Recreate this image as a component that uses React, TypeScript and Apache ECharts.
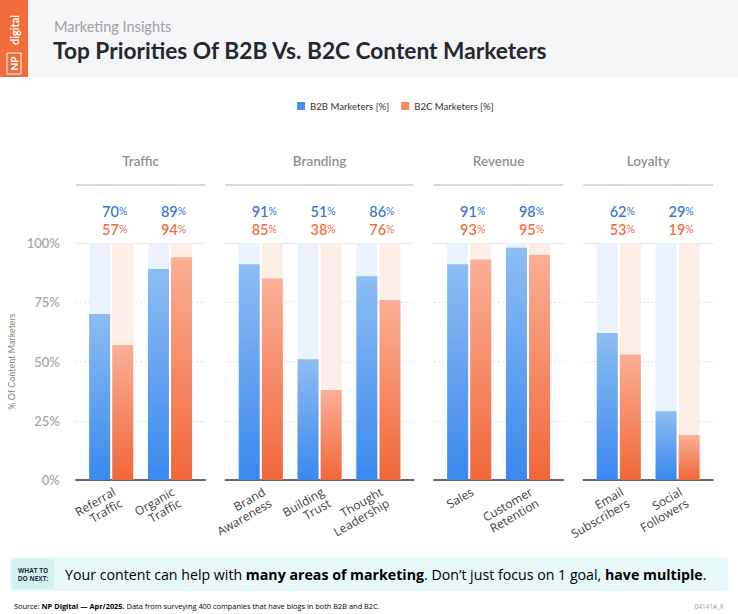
import React, { useEffect, useRef } from 'react';
import * as echarts from 'echarts';

const groups = ['Traffic', 'Branding', 'Revenue', 'Loyalty'];
const categories = [
  'Referral\nTraffic',
  'Organic\nTraffic',
  'Brand\nAwareness',
  'Building\nTrust',
  'Thought\nLeadership',
  'Sales',
  'Customer\nRetention',
  'Email\nSubscribers',
  'Social\nFollowers',
];
const categoryGroup = ['Traffic', 'Traffic', 'Branding', 'Branding', 'Branding', 'Revenue', 'Revenue', 'Loyalty', 'Loyalty'];
const b2b = [70, 89, 91, 51, 86, 91, 98, 62, 29];
const b2c = [57, 94, 85, 38, 76, 93, 95, 53, 19];
const seriesNames = ['B2B Marketers [%]', 'B2C Marketers [%]'];
const yMin = 0;
const yMax = 100;
const yStep = 25;

const W = 738;
const H = 614;
const SLOT = 58.8;
const INSET = 6;
const PANEL_GAP = 20;
const X0 = 75.8;
const TOP = 243;
const BOTTOM = 480;

const BLUE_TXT = '#3a6fd4';
const ORANGE_TXT = '#f0693d';

export default function App() {
  const ref = useRef<HTMLDivElement>(null);
  useEffect(() => {
    const chart = echarts.init(ref.current!, null, { renderer: 'svg' });
    const panels: { g: string; idx: number[]; x: number; w: number }[] = [];
    let x = X0;
    groups.forEach((g) => {
      const idx = categories.map((_, i) => i).filter((i) => categoryGroup[i] === g);
      const w = idx.length * SLOT + 2 * INSET;
      panels.push({ g, idx, x, w });
      x += w + PANEL_GAP;
    });
    const n = panels.length;
    const grid: any[] = [];
    const xAxis: any[] = [];
    const yAxis: any[] = [];
    const series: any[] = [];
    const graphic: any[] = [];

    // header
    graphic.push(
      { type: 'rect', shape: { x: 0, y: 0, width: W, height: 77 }, style: { fill: '#f5f6f8' }, z: -10 },
      { type: 'rect', shape: { x: 0, y: 0, width: 28, height: 77 }, style: { fill: '#f26b3b' } },
      {
        type: 'text', x: 14, y: 30, rotation: Math.PI / 2,
        style: { text: 'digital', fill: '#fff', fontSize: 11, fontWeight: 'bold', fontFamily: 'Lato', align: 'center', verticalAlign: 'middle' },
      },
      { type: 'rect', shape: { x: 7, y: 53, width: 14, height: 21 }, style: { fill: 'none', stroke: '#fff', lineWidth: 1 } },
      {
        type: 'text', x: 14, y: 63.5, rotation: Math.PI / 2,
        style: { text: 'NP', fill: '#fff', fontSize: 10, fontWeight: 'bold', fontFamily: 'Lato', align: 'center', verticalAlign: 'middle' },
      },
      {
        type: 'text', x: 54, y: 26,
        style: { text: 'Marketing Insights', fill: '#9ca0a5', fontSize: 14.5, fontFamily: 'Lato', verticalAlign: 'middle' },
      },
      {
        type: 'text', x: 53, y: 50,
        style: { text: 'Top Priorities Of B2B Vs. B2C Content Marketers', fill: '#24292e', fontSize: 22.7, fontWeight: 'bold', fontFamily: 'Lato', verticalAlign: 'middle' },
      }
    );

    panels.forEach((p, k) => {
      // group header
      graphic.push(
        {
          type: 'text', x: p.x + p.w / 2, y: 161,
          style: { text: p.g, fill: '#8d9196', fontSize: 13.5, fontWeight: 600, fontFamily: 'Lato', align: 'center', verticalAlign: 'middle' },
        },
        { type: 'rect', shape: { x: p.x, y: 184, width: p.w, height: 2 }, style: { fill: '#d6d9dc' } }
      );
      // frame grid
      grid.push({ left: p.x, width: p.w, top: TOP, height: BOTTOM - TOP });
      xAxis.push({
        type: 'value', gridIndex: k, position: 'bottom', min: 0, max: 1,
        axisLine: { show: true, lineStyle: { color: '#2f3b3a', width: 1.5 } },
        axisTick: { show: false }, axisLabel: { show: false }, splitLine: { show: false },
      });
      xAxis.push({
        type: 'value', gridIndex: k, position: 'top', min: 0, max: 1,
        axisLine: { show: true, lineStyle: { color: '#e4e6e9', width: 1 } },
        axisTick: { show: false }, axisLabel: { show: false }, splitLine: { show: false },
      });
      yAxis.push({
        type: 'value', gridIndex: k, min: yMin, max: yMax, interval: yStep,
        axisLine: { show: false }, axisTick: { show: false },
        splitLine: { show: true, lineStyle: { color: '#dcdfe2', type: [2, 2], width: 1 } },
        axisLabel: {
          show: k === 0, formatter: '{value}%', color: '#a3a8ad', fontSize: 13, fontWeight: 600,
          fontFamily: 'Lato', margin: 16, padding: [0, 0, 5, 0],
        },
        name: k === 0 ? '% Of Content Marketers' : '',
        nameLocation: 'middle', nameGap: 60,
        nameTextStyle: { color: '#80868b', fontSize: 9, fontFamily: 'Lato' },
      });
    });

    panels.forEach((p, k) => {
      const gi = n + k;
      const cats = p.idx.map((i) => categories[i]);
      grid.push({ left: p.x + INSET, width: p.w - 2 * INSET, top: TOP, height: BOTTOM - TOP });
      xAxis.push({
        type: 'category', gridIndex: gi, position: 'bottom', data: cats,
        axisLine: { show: false }, axisTick: { show: false },
        axisLabel: {
          rotate: 30, margin: 5, interval: 0, color: '#3d4347', fontSize: 12, lineHeight: 13,
          fontFamily: 'Open Sans', verticalAlign: 'top',
        },
      });
      xAxis.push({
        type: 'category', gridIndex: gi, position: 'top', data: cats,
        axisLine: { show: false }, axisTick: { show: false },
        axisLabel: {
          interval: 0, margin: 5, padding: [0, 0, 0, 7],
          formatter: (v: string) => {
            const i = categories.indexOf(v);
            return `{b|${b2b[i]}}{bp|%}\n{o|${b2c[i]}}{op|%}`;
          },
          rich: {
            b: { fontSize: 14.5, color: BLUE_TXT, fontFamily: 'Lato', fontWeight: 500, lineHeight: 18 },
            bp: { fontSize: 10.5, color: BLUE_TXT, fontFamily: 'Lato', lineHeight: 18 },
            o: { fontSize: 14.5, color: ORANGE_TXT, fontFamily: 'Lato', fontWeight: 500, lineHeight: 18 },
            op: { fontSize: 10.5, color: ORANGE_TXT, fontFamily: 'Lato', lineHeight: 18 },
          },
        },
      });
      yAxis.push({
        type: 'value', gridIndex: gi, min: yMin, max: yMax, interval: yStep, show: false,
        splitLine: { show: false },
      });
      const xBottom = 2 * n + 2 * k;
      series.push({
        type: 'bar', name: seriesNames[0], xAxisIndex: xBottom, yAxisIndex: gi,
        data: p.idx.map((i) => b2b[i]), barWidth: 21, barGap: '10%',
        showBackground: true, backgroundStyle: { color: '#eaf2fd' },
        itemStyle: {
          color: new echarts.graphic.LinearGradient(0, 0, 0, 1, [
            { offset: 0, color: '#8dbdf2' },
            { offset: 1, color: '#3a88ef' },
          ]),
        },
      });
      series.push({
        type: 'bar', name: seriesNames[1], xAxisIndex: xBottom, yAxisIndex: gi,
        data: p.idx.map((i) => b2c[i]), barWidth: 21, barGap: '10%',
        showBackground: true, backgroundStyle: { color: '#fdede7' },
        itemStyle: {
          color: new echarts.graphic.LinearGradient(0, 0, 0, 1, [
            { offset: 0, color: '#fbaf95' },
            { offset: 1, color: '#f0673a' },
          ]),
        },
      });
    });

    // bottom callout
    graphic.push(
      { type: 'rect', shape: { x: 10, y: 557, width: 718, height: 34, r: 3 }, style: { fill: '#e6f8f7' }, z: -10 },
      { type: 'rect', shape: { x: 12, y: 559, width: 42, height: 30, r: 2 }, style: { fill: '#d4f1ef' }, z: -9 },
      {
        type: 'text', x: 33, y: 574,
        style: {
          text: 'WHAT TO\nDO NEXT:', fill: '#1f2d3d', fontSize: 6.5, fontWeight: 'bold', fontFamily: 'Open Sans',
          align: 'center', verticalAlign: 'middle', lineHeight: 8,
        },
      },
      {
        type: 'text', x: 65, y: 574,
        style: {
          text: '{n|Your content can help with }{bd|many areas of marketing}{n|. Don’t just focus on 1 goal, }{bd|have multiple}{n|.}',
          verticalAlign: 'middle',
          rich: {
            n: { fontSize: 14.2, color: '#1f2d3d', fontFamily: 'Open Sans' },
            bd: { fontSize: 14.2, color: '#1f2d3d', fontFamily: 'Open Sans', fontWeight: 'bold' },
          },
        },
      },
      {
        type: 'text', x: 14, y: 606,
        style: {
          text: '{n|Source: }{bd|NP Digital — Apr/2025.}{n| Data from surveying 400 companies that have blogs in both B2B and B2C.}',
          verticalAlign: 'middle',
          rich: {
            n: { fontSize: 7.4, color: '#555', fontFamily: 'Open Sans' },
            bd: { fontSize: 7.4, color: '#333', fontFamily: 'Open Sans', fontWeight: 'bold' },
          },
        },
      },
      {
        type: 'text', x: 724, y: 606,
        style: { text: '04141A_K', fill: '#999', fontSize: 6.5, fontFamily: 'Open Sans', align: 'right', verticalAlign: 'middle' },
      }
    );

    chart.setOption({
      animation: false,
      backgroundColor: '#ffffff',
      legend: {
        top: 96, left: 292, itemWidth: 8, itemHeight: 8, itemGap: 12, icon: 'rect',
        textStyle: { fontSize: 9.6, color: '#333', fontFamily: 'Lato' },
        data: [
          { name: seriesNames[0], itemStyle: { color: '#4a8fe8' } },
          { name: seriesNames[1], itemStyle: { color: '#f28a62' } },
        ],
      },
      grid, xAxis, yAxis, series, graphic,
    });
    return () => chart.dispose();
  }, []);
  return <div ref={ref} style={{ position: 'fixed', left: 0, top: 0, width: W, height: H }} />;
}
